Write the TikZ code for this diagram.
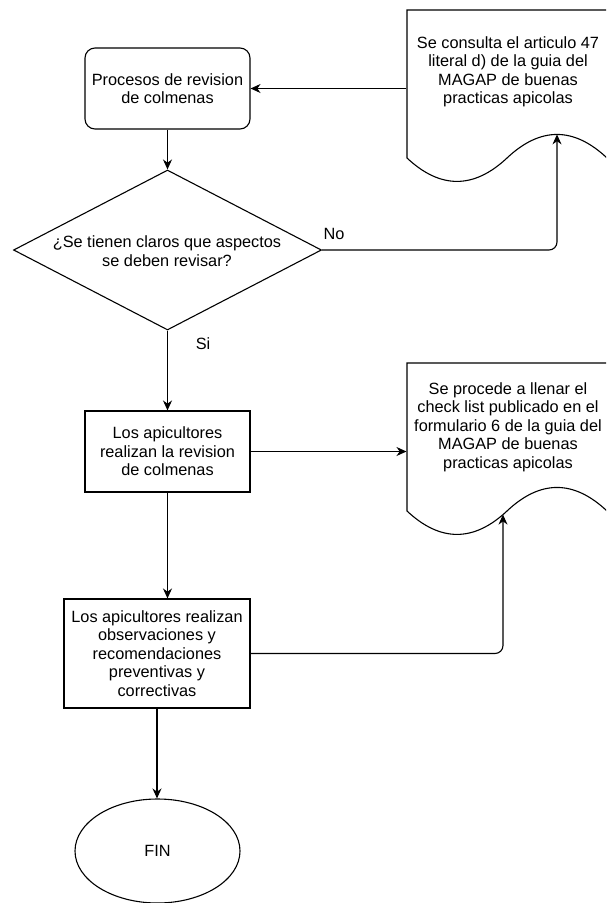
\documentclass[tikz,border=0pt]{standalone}
\usepackage{fontspec}
\setmainfont{Liberation Sans}
\usetikzlibrary{shapes.geometric,arrows.meta,calc}
\begin{document}
\begin{tikzpicture}[x=1pt,y=-1pt,
  line width=1.1pt,
  arr/.style={draw=black, -{Stealth[length=10pt,width=9pt]}},
  txt/.style={font=\fontsize{16.3}{18.5}\selectfont, align=center, text=black},
  boxr/.style={draw, rectangle, inner sep=0pt},
]
\useasboundingbox (0,0) rectangle (606,903);
\clip (0,0) rectangle (606,903);

% process boxes
\node[boxr, txt, rounded corners=10pt, minimum width=165pt, minimum height=81pt] (p1) at (167.5,88.5) {Procesos de revision\\de colmenas};
\node[draw, diamond, minimum width=308pt, minimum height=160pt, inner sep=0pt] (dec) at (167.5,250) {};
\node[txt, inner sep=0pt] (dect) at (167,251) {¿Se tienen claros que aspectos\\se deben revisar?};
\node[boxr, txt, minimum width=165pt, minimum height=81pt] (r1) at (167.5,451.5) {Los apicultores\\realizan la revision\\de colmenas};
\node[boxr, txt, minimum width=186pt, minimum height=109pt] (r2) at (157,653.5) {Los apicultores realizan\\observaciones y\\recomendaciones\\preventivas y\\correctivas};
\node[draw, ellipse, txt, minimum width=165pt, minimum height=104pt, inner sep=0pt] (fin) at (157.5,851) {FIN};

% document 1
\begin{scope}[shift={(407,10)}]
\node[minimum width=200pt, minimum height=174pt, inner sep=0pt] (d1) at (100,87) {};
\draw (0,0) -- (200,0) -- (200,148) .. controls (166.7,116.6) and (133.3,116.6) .. (100,148) .. controls (66.7,179.2) and (33.3,179.2) .. (0,148) -- cycle;
\coordinate (d1in) at (150,124.4);
\end{scope}
\node[txt, inner sep=0pt] (d1t) at (508,72) {Se consulta el articulo 47\\literal d) de la guia del\\MAGAP de buenas\\practicas apicolas};

% document 2
\begin{scope}[shift={(407,363)}]
\node[minimum width=200pt, minimum height=174pt, inner sep=0pt] (d2) at (100,87) {};
\draw (0,0) -- (200,0) -- (200,148) .. controls (166.7,116.6) and (133.3,116.6) .. (100,148) .. controls (66.7,179.2) and (33.3,179.2) .. (0,148) -- cycle;
\coordinate (d2in) at (96,151.6);
\end{scope}
\node[txt, inner sep=0pt] (d2t) at (508,427) {Se procede a llenar el\\check list publicado en el\\formulario 6 de la guia del\\MAGAP de buenas\\practicas apicolas};

% connectors
\draw[arr] (p1.east -| d1.west) -- (p1.east);
\draw[arr] (p1.south) -- (p1.south |- dec.north);
\draw[arr, rounded corners=8pt] (dec.east) -| (d1in);
\node[txt, inner sep=0pt] (no) at (334,234) {No};
\draw[arr] (dec.south) -- (dec.south |- r1.north);
\node[txt, inner sep=0pt] (si) at (203,344) {Si};
\draw[arr] (r1.east) -- (r1.east -| d2.west);
\draw[arr] (r1.south) -- (r1.south |- r2.north);
\draw[arr] (r2.south) -- (r2.south |- fin.north);
\draw[arr, rounded corners=8pt] (r2.east) -| (d2in);
\end{tikzpicture}
\end{document}
